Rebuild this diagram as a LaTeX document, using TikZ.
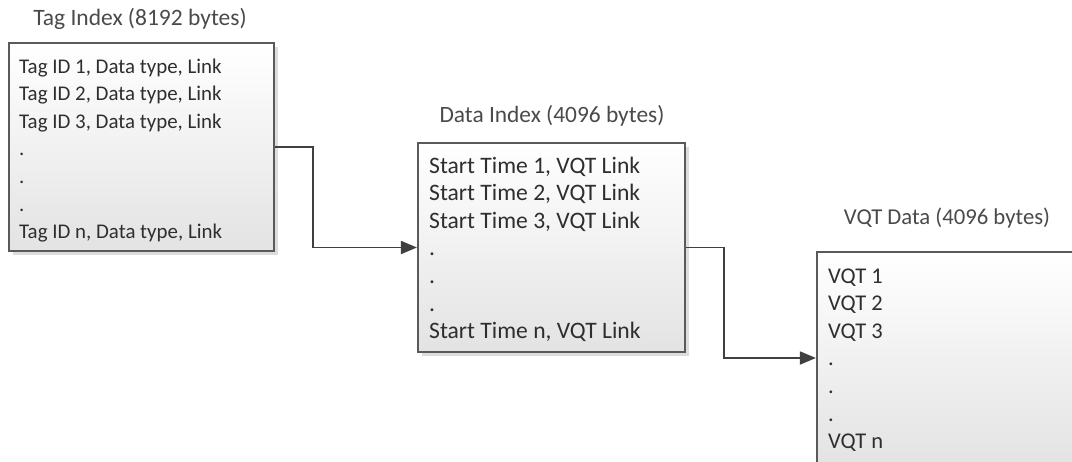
\documentclass[tikz,border=0pt]{standalone}
\usepackage{fontspec}
\setmainfont{Carlito}
\usetikzlibrary{arrows.meta,shadows}
\definecolor{boxline}{HTML}{5A5A5A}
\definecolor{txt}{HTML}{2E2E2E}
\definecolor{ttl}{HTML}{4A4A4A}
\definecolor{conn}{HTML}{404040}
\newcommand{\fsz}[1]{\fontsize{#1}{27}\selectfont}
\tikzset{
  membox/.style={draw=boxline, line width=2.2pt, rectangle, inner sep=0pt,
    top color=white, bottom color=black!11,
    drop shadow={shadow xshift=3.5pt, shadow yshift=-3.5pt, fill=black!22, opacity=0.6}},
  rowtext/.style={anchor=base west, inner sep=0pt, text=txt},
  titletext/.style={anchor=base, inner sep=0pt, text=ttl},
  link/.style={draw=conn, line width=1.8pt, -{Triangle[length=16pt,width=13pt]}}
}
\begin{document}
\begin{tikzpicture}[x=1pt,y=-1pt]
\useasboundingbox (0,0) rectangle (1072,461);
\clip (0,0) rectangle (1072,461);
\fill[white] (0,0) rectangle (1072,461);
% boxes
\node[membox, minimum width=265pt, minimum height=208pt] (tag) at (141.5,147) {};
\node[membox, minimum width=267pt, minimum height=209pt] (data) at (551.5,247.5) {};
\node[membox, minimum width=263pt, minimum height=212pt] (vqt) at (948.5,358) {};
% titles
\node[titletext, font=\fsz{23.5}] (tagtitle) at (140,25) {Tag Index (8192 bytes)};
\node[titletext, font=\fsz{23.4}] (datatitle) at (552,122) {Data Index (4096 bytes)};
\node[titletext, font=\fsz{22.7}] (vqttitle) at (947,224) {VQT Data (4096 bytes)};
% rows
\foreach \txt [count=\i] in {{Tag ID 1, Data type, Link},{Tag ID 2, Data type, Link},{Tag ID 3, Data type, Link},.,.,.,{Tag ID n, Data type, Link}}
  \node[rowtext, font=\fsz{20.9}] (tagrow\i) at (19,{73+27.6*(\i-1)}) {\txt};
\foreach \txt [count=\i] in {{Start Time 1, VQT Link},{Start Time 2, VQT Link},{Start Time 3, VQT Link},.,.,.,{Start Time n, VQT Link}}
  \node[rowtext, font=\fsz{23.6}] (datarow\i) at (429,{173+27.6*(\i-1)}) {\txt};
\foreach \txt [count=\i] in {VQT 1,VQT 2,VQT 3,.,.,.,VQT n}
  \node[rowtext, font=\fsz{22.5}] (vqtrow\i) at (828,{283+27.6*(\i-1)}) {\txt};
% connectors
\draw[link] (tag.east) -- ++(38,0) |- (data.west);
\draw[link] (data.east) -- ++(38,0) |- (vqt.west);
\end{tikzpicture}
\end{document}
